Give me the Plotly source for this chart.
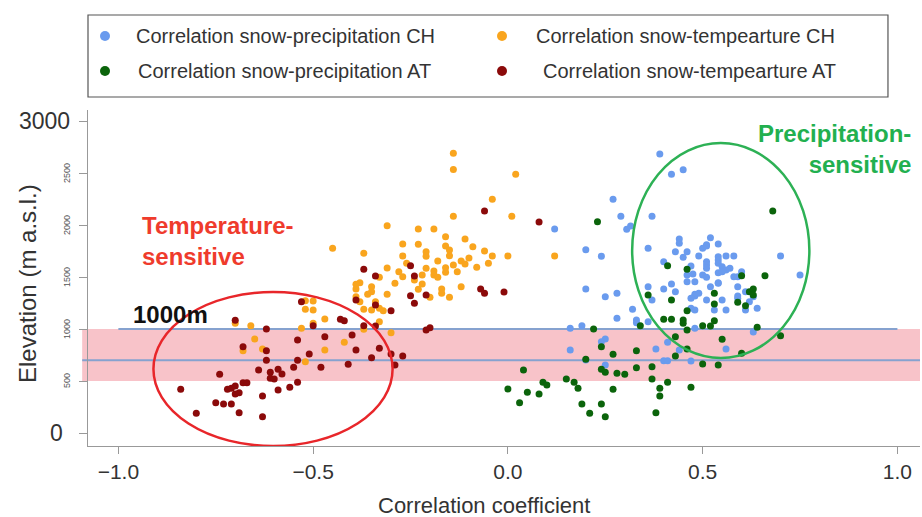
import plotly.graph_objects as go

# Snow-climate correlation coefficients vs. station elevation (m a.s.l.)
precip_ch_r = [0.39, 0.42, 0.45, 0.27, 0.29, 0.37, 0.12, 0.305, 0.315, 0.20, 0.24, 0.36, 0.44, 0.44,
               0.52, 0.54, 0.51, 0.50, 0.46, 0.43, 0.45, 0.49, 0.54, 0.56, 0.58, 0.70, 0.40, 0.51,
               0.51, 0.51, 0.54, 0.54, 0.55, 0.56, 0.57, 0.47, 0.46, 0.46, 0.48, 0.50, 0.51, 0.58,
               0.59, 0.60, 0.75, 0.42, 0.40, 0.36, 0.43, 0.48, 0.48, 0.49, 0.52, 0.54, 0.54, 0.59,
               0.59, 0.61, 0.63, 0.62, 0.51, 0.55, 0.37, 0.20, 0.25, 0.28, 0.47, 0.48, 0.53, 0.61,
               0.64, 0.32, 0.28, 0.33, 0.33, 0.36, 0.16, 0.19, 0.48, 0.25, 0.24, 0.16, 0.38, 0.41,
               0.44, 0.56, 0.63, 0.40, 0.41, 0.47, 0.25, 0.20,
               0.51, 0.475, 0.54, 0.55, 0.59, 0.47, 0.56]
precip_ch_elev = [2683, 2487, 2532, 2247, 2084, 2084, 1961, 1960, 1990, 1762, 1699, 1776, 1865, 1824,
                  1878, 1817, 1798, 1776, 1743, 1743, 1689, 1702, 1695, 1702, 1702, 1702, 1647, 1647,
                  1615, 1584, 1663, 1632, 1599, 1567, 1584, 1606, 1519, 1455, 1455, 1519, 1497, 1503,
                  1503, 1551, 1519, 1433, 1385, 1407, 1359, 1334, 1317, 1343, 1407, 1439, 1445, 1407,
                  1317, 1359, 1311, 1262, 1279, 1279, 1279, 1385, 1311, 1343, 1199, 1183, 1183, 1183,
                  1199, 1189, 1103, 1087, 1061, 1070, 1007, 1032, 1007, 904, 878, 798, 808, 872,
                  798, 808, 971, 695, 695, 692, 654, 702,
                  1810, 1530, 1541, 1551, 1295, 1295, 1183]

temp_ch_r = [-0.14, -0.14, 0.02, -0.04, -0.14, 0.01, -0.31, -0.23, -0.19, -0.45, -0.37, -0.16, -0.11,
             -0.27, -0.23, -0.16, -0.09, -0.15, -0.06, -0.21, -0.27, -0.21, -0.15, -0.04, 0.00, 0.12,
             -0.18, -0.12, -0.10, -0.05, -0.26, -0.14, -0.11, -0.31, -0.21, -0.16, -0.08, -0.28, -0.19,
             -0.16, -0.13, -0.27, -0.33, -0.22, -0.19, -0.24, -0.18, -0.29, -0.22, -0.38, -0.39, -0.35,
             -0.39, -0.35, -0.23, -0.17, -0.12, -0.31, -0.39, -0.36, -0.20, -0.17, -0.15, -0.38, -0.34,
             -0.35, -0.33, -0.37, -0.32, -0.52, -0.50, -0.52, -0.50, -0.47, -0.50, -0.33, -0.30, -0.42,
             -0.47, -0.70, -0.66, -0.65, -0.68, -0.63, -0.53, -0.37, -0.52]
temp_ch_elev = [2690, 2535, 2487, 2247, 2084, 2084, 1993, 1961, 1961, 1776, 1728, 1887, 1865, 1817,
                1814, 1798, 1791, 1760, 1750, 1743, 1702, 1699, 1705, 1702, 1702, 1702, 1654, 1654,
                1683, 1632, 1632, 1615, 1625, 1586, 1584, 1590, 1593, 1551, 1558, 1545, 1551, 1503,
                1497, 1519, 1519, 1471, 1497, 1439, 1433, 1445, 1430, 1407, 1385, 1359, 1382, 1385,
                1407, 1334, 1311, 1334, 1305, 1343, 1305, 1262, 1262, 1183, 1199, 1189, 1176, 1272,
                1269, 1189, 1183, 1096, 1055, 1070, 964, 872, 798, 1055, 1032, 904, 791, 808,
                1007, 997, 686]

precip_at_r = [0.68, 0.23, 0.41, 0.46, 0.60, 0.66, 0.36, 0.42, 0.53, 0.53, 0.59, 0.61, 0.62, 0.63,
               0.63, 0.46, 0.40, 0.42, 0.45, 0.45, 0.34, 0.50, 0.52, 0.53, 0.46, 0.64, 0.70, 0.22,
               0.43, 0.55, 0.24, 0.27, 0.33, 0.46, 0.60, 0.20, 0.43, 0.50, 0.54, 0.04, 0.24, 0.25,
               0.28, 0.30, 0.33, 0.37, 0.15, 0.17, 0.18, 0.09, 0.10, 0.37, 0.41, 0.00, 0.05, 0.08,
               0.27, 0.39, 0.39, 0.47, 0.03, 0.19, 0.24, 0.21, 0.25, 0.38]
precip_at_elev = [2134, 2032, 1609, 1574, 1512, 1512, 1327, 1279, 1343, 1240, 1257, 1224, 1359, 1385,
                  1327, 1176, 1093, 1093, 1087, 1055, 1032, 1032, 1029, 1080, 990, 1016, 936, 1000,
                  926, 901, 830, 757, 791, 808, 766, 709, 740, 663, 654, 606, 612, 584,
                  574, 564, 628, 637, 519, 487, 430, 487, 462, 519, 487, 423, 391, 375,
                  420, 430, 356, 439, 291, 279, 279, 189, 157, 195]

temp_at_r = [-0.70, -0.62, -0.68, -0.62, -0.62, -0.54, -0.54, -0.64, -0.61, -0.59, -0.58, -0.61, -0.60,
             -0.55, -0.51, -0.48, -0.47, -0.50, -0.53, -0.43, -0.42, -0.40, -0.41, -0.39, -0.35, -0.33,
             -0.30, -0.29, -0.27, -0.37, -0.34, -0.39, -0.34, -0.30, -0.25, -0.24, -0.74, -0.84, -0.80,
             -0.72, -0.71, -0.70, -0.68, -0.67, -0.70, -0.69, -0.75, -0.73, -0.71, -0.69, -0.63, -0.63,
             -0.59, -0.56, -0.54, -0.06, 0.08, -0.37, -0.34, -0.25, -0.24, -0.21, -0.07, -0.06, -0.01,
             -0.21, -0.20]
temp_at_elev = [1085, 1000, 830, 790, 700, 895, 700, 605, 585, 612, 567, 526, 519,
                632, 760, 632, 926, 1032, 1262, 1093, 1080, 942, 661, 798, 724, 814,
                760, 654, 740, 1032, 1030, 1279, 1231, 1176, 1320, 1247, 564, 420, 189,
                420, 430, 452, 484, 484, 375, 387, 291, 279, 279, 195, 356, 157,
                413, 439, 487, 2135, 2030, 1574, 1510, 1609, 1510, 1327, 1385, 1343, 1356,
                990, 1012]

series_names = ["Correlation snow-precipitation CH", "Correlation snow-tempearture CH",
                "Correlation snow-precipitation AT", "Correlation snow-tempearture AT"]
series_colors = ["#6A9BEE", "#F9A51E", "#0B640B", "#8B0A0A"]

y_ticks = [0, 500, 1000, 1500, 2000, 2500, 3000]
x_ticks = [-1.0, -0.5, 0.0, 0.5, 1.0]
x_ticktext = ["\u22121.0", "\u22120.5", "0.0", "0.5", "1.0"]

FONT = "Liberation Sans, Arial, Helvetica, sans-serif"
TXT = "#333333"

fig = go.Figure()

xs = [precip_ch_r, temp_ch_r, precip_at_r, temp_at_r]
ys = [precip_ch_elev, temp_ch_elev, precip_at_elev, temp_at_elev]
# CH series first, AT series drawn on top
for idx in [1, 0, 2, 3]:
    fig.add_trace(go.Scatter(
        x=xs[idx], y=ys[idx], mode="markers", name=series_names[idx],
        marker=dict(color=series_colors[idx], size=7, line=dict(width=0)),
        showlegend=False, hoverinfo="x+y+name"))

shapes = []
# low-elevation band 500-1000 m
shapes.append(dict(type="rect", xref="paper", yref="y", x0=-0.007, x1=1.0, y0=500, y1=1000,
                   fillcolor="#F8C3C9", line=dict(width=0), layer="below"))
shapes.append(dict(type="line", xref="x", yref="y", x0=-1.0, x1=1.0, y0=1000, y1=1000,
                   line=dict(color="#86A2CF", width=2), layer="below"))
shapes.append(dict(type="line", xref="paper", yref="y", x0=-0.007, x1=1.0, y0=700, y1=700,
                   line=dict(color="#86A2CF", width=2), layer="below"))
# sensitivity regions
shapes.append(dict(type="circle", xref="x", yref="y", x0=-0.91, x1=-0.296, y0=-125, y1=1356,
                   line=dict(color="#E8262A", width=2.5)))
shapes.append(dict(type="circle", xref="x", yref="y", x0=0.319, x1=0.774, y0=721, y1=2788,
                   line=dict(color="#2DB155", width=2.5)))

# legend box
shapes.append(dict(type="rect", xref="paper", yref="paper", x0=0.0, x1=0.9615, y0=1.0387, y1=1.2827,
                   line=dict(color="#555555", width=1.2), fillcolor="rgba(0,0,0,0)"))
legend_pos = [(105, 36), (502, 36), (105, 71), (502, 71)]
legend_text_x = [134, 534, 136, 541]
annotations = []
for i, ((px, py), tx) in enumerate(zip(legend_pos, legend_text_x)):
    ypap = (446 - py) / 336
    shapes.append(dict(type="circle", xref="paper", yref="paper", xsizemode="pixel", ysizemode="pixel",
                       xanchor=(px - 88) / 832, yanchor=ypap, x0=-5, x1=5, y0=-5, y1=5,
                       fillcolor=series_colors[i], line=dict(width=0)))
    annotations.append(dict(xref="paper", yref="paper", x=(tx - 88) / 832, y=ypap,
                            xanchor="left", yanchor="middle", showarrow=False,
                            text=series_names[i], font=dict(family=FONT, size=20, color=TXT)))

# y tick labels: large at the ends, small rotated ones in between
for v in y_ticks:
    if v in (0, 3000):
        annotations.append(dict(xref="paper", yref="y", x=0, y=v, xanchor="right", yanchor="middle",
                                xshift=-16 if v == 3000 else -23, showarrow=False, text=str(v),
                                font=dict(family=FONT, size=23, color=TXT)))
    else:
        annotations.append(dict(xref="paper", yref="y", x=0, y=v, xanchor="center", yanchor="middle",
                                xshift=-21, showarrow=False, text=str(v), textangle=-90,
                                font=dict(family=FONT, size=9, color="#555555")))

annotations += [
    dict(xref="paper", yref="paper", x=0, y=0.4821, xshift=-61, xanchor="center", yanchor="middle",
         showarrow=False, text="Elevation (m a.s.l.)", textangle=-90,
         font=dict(family=FONT, size=24, color=TXT)),
    dict(xref="paper", yref="paper", x=0.476, y=-0.1756, xanchor="center", yanchor="middle",
         showarrow=False, text="Correlation coefficient", font=dict(family=FONT, size=22, color=TXT)),
    dict(xref="paper", yref="paper", x=0.0625, y=0.6101, xanchor="left", yanchor="middle", align="left",
         showarrow=False, text="<b>Temperature-<br>sensitive</b>",
         font=dict(family=FONT, size=24, color="#EF3B2C")),
    dict(xref="paper", yref="paper", x=0.9916, y=0.8854, xanchor="right", yanchor="middle", align="right",
         showarrow=False, text="<b>Precipitation-<br>sensitive</b>",
         font=dict(family=FONT, size=24, color="#22B04F")),
    dict(xref="paper", yref="paper", x=0.0517, y=0.3899, xanchor="left", yanchor="middle",
         showarrow=False, text="<b>1000m</b>", font=dict(family=FONT, size=24, color="#111111")),
]

fig.update_layout(
    width=922, height=517,
    margin=dict(l=88, r=2, t=110, b=71),
    paper_bgcolor="white", plot_bgcolor="white",
    shapes=shapes, annotations=annotations,
    showlegend=False,
    xaxis=dict(range=[-1.078, 1.058], tickvals=x_ticks, ticktext=x_ticktext,
               ticks="outside", ticklen=7, tickcolor="#999999", showline=True, linecolor="#999999",
               linewidth=1, showgrid=False, zeroline=False,
               tickfont=dict(family=FONT, size=21, color=TXT)),
    yaxis=dict(range=[-125, 3106], tickvals=y_ticks, showticklabels=False,
               ticks="outside", ticklen=8, tickcolor="#999999", showline=True, linecolor="#999999",
               linewidth=1, showgrid=False, zeroline=False),
)

fig.write_html("out.html")
